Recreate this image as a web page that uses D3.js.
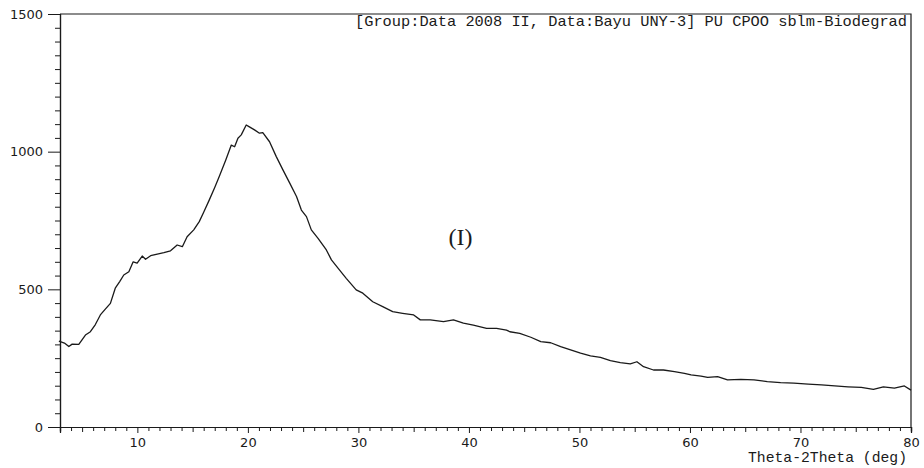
<!DOCTYPE html>
<html>
<head>
<meta charset="utf-8">
<script src="https://cdn.jsdelivr.net/npm/d3@7"></script>
<style>
  html, body { margin: 0; padding: 0; background: #fff; }
  svg { display: block; }
</style>
</head>
<body>
<svg id="chart" width="924" height="468"></svg>
<script>
// ---- data ----
const twoTheta = [
  2.9, 3.4, 3.8, 4.1, 4.7, 5.3, 5.75, 6.2, 6.65, 7.1, 7.56, 8.0, 8.4, 8.77, 9.23, 9.62, 9.98,
  10.44, 10.74, 11.2, 11.8, 12.4, 13.0, 13.6, 14.07, 14.5, 15.1, 15.6, 16.0, 16.5, 17.0, 17.4,
  18.0, 18.5, 18.8, 19.1, 19.4, 19.85, 20.1, 20.6, 21.05, 21.35, 21.96, 22.57, 23.17, 23.8,
  24.4, 24.84, 25.3, 25.74, 26.35, 27.1, 27.56, 28.3, 28.9, 29.8, 30.4, 31.3, 32.2, 33.1,
  34.0, 35.0, 35.6, 36.5, 37.7, 38.6, 39.5, 40.4, 41.6, 42.5, 43.4, 43.7, 44.6, 45.6, 46.5,
  47.4, 48.3, 49.2, 50.1, 51.0, 51.9, 52.8, 53.7, 54.6, 55.2, 55.8, 56.7, 57.6, 58.6, 59.5,
  60.1, 61.0, 61.6, 62.5, 63.4, 64.6, 65.8, 67.0, 68.2, 69.4, 70.7, 71.9, 73.1, 74.3, 75.5,
  76.6, 77.5, 78.5, 79.4, 80.0
];
const intensity = [
  312, 305, 292, 301, 300, 334, 346, 372, 407, 428, 449, 504, 528, 552, 564, 600, 595,
  621, 609, 622, 628, 633, 640, 661, 655, 691, 716, 746, 780, 824, 870, 909,
  970, 1024, 1018, 1049, 1061, 1097, 1091, 1079, 1067, 1069, 1036, 982, 934, 885,
  837, 788, 764, 716, 685, 643, 607, 570, 540, 498, 486, 455, 437, 419,
  413, 407, 389, 389, 383, 389, 377, 370, 358, 358, 352, 346, 340, 326, 310,
  306, 292, 280, 268, 258, 253, 241, 234, 229, 237, 219, 207, 207, 201, 195,
  189, 185, 180, 183, 171, 173, 171, 165, 161, 159, 156, 153, 149, 146, 144,
  137, 146, 141, 149, 134
];
const xTickValues = [10, 20, 30, 40, 50, 60, 70, 80];
const yTickValues = [0, 500, 1000, 1500];
const headerText = "[Group:Data 2008 II, Data:Bayu UNY-3] PU CPOO sblm-Biodegrad";
const xAxisTitle = "Theta-2Theta (deg)";
const panelLabel = "(I)";

// ---- layout ----
const svg = d3.select("#chart");
const L = 60, R = 911, T = 14, B = 427;
const x = d3.scaleLinear().domain([3, 80]).range([L, R]);
const y = d3.scaleLinear().domain([0, 1500]).range([B, T]);
const ink = "#1a1a1a";

const points = twoTheta.map((d, i) => ({ x: d, y: intensity[i] }));

// frame (top + right)
svg.append("path")
  .attr("d", `M${L},${T}H${R}V${B}`)
  .attr("fill", "none").attr("stroke", ink).attr("stroke-width", 1.2);

// x axis: minor ticks every degree
const xMinor = d3.range(3, 81, 1).filter(v => v % 5 !== 0);
const xMid = d3.range(5, 80, 10);
const gx = svg.append("g").attr("transform", `translate(0,${B})`);
gx.call(d3.axisBottom(x).tickValues(xMinor).tickSize(4).tickFormat(""));
gx.append("g").call(d3.axisBottom(x).tickValues(xMid).tickSize(5).tickFormat(""));
const gxMaj = gx.append("g").call(d3.axisBottom(x).tickValues(xTickValues).tickSize(6).tickPadding(5).tickFormat(d3.format("d")));
gx.selectAll("path.domain").attr("stroke", ink).attr("stroke-width", 1.2);
gx.selectAll("line").attr("stroke", ink).attr("stroke-width", 1);
gxMaj.selectAll("text")
  .attr("font-family", "DejaVu Sans, sans-serif").attr("font-size", 13).attr("fill", ink);

// y axis: minor ticks every 50
const yMinor = d3.range(50, 1500, 50).filter(v => v % 500 !== 0);
const gy = svg.append("g").attr("transform", `translate(${L},0)`);
gy.call(d3.axisLeft(y).tickValues(yMinor).tickSize(5).tickFormat(""));
const gyMaj = gy.append("g").call(d3.axisLeft(y).tickValues(yTickValues).tickSize(12).tickPadding(5).tickFormat(d3.format("d")));
gy.selectAll("path.domain").attr("stroke", ink).attr("stroke-width", 1.2);
gy.selectAll("line").attr("stroke", ink).attr("stroke-width", 1);
gyMaj.selectAll("text")
  .attr("font-family", "DejaVu Sans, sans-serif").attr("font-size", 13).attr("fill", ink);

// data line
const line = d3.line().x(d => x(d.x)).y(d => y(d.y));
svg.append("path").datum(points)
  .attr("d", line)
  .attr("fill", "none").attr("stroke", ink).attr("stroke-width", 1.3)
  .attr("stroke-linejoin", "round");

// header
svg.append("text")
  .attr("x", 355).attr("y", 26)
  .attr("textLength", 552).attr("lengthAdjust", "spacingAndGlyphs")
  .attr("font-family", "Liberation Mono, DejaVu Sans Mono, monospace")
  .attr("font-size", 15).attr("fill", ink)
  .text(headerText);

// x axis title
svg.append("text")
  .attr("x", 748).attr("y", 462)
  .attr("textLength", 159).attr("lengthAdjust", "spacingAndGlyphs")
  .attr("font-family", "Liberation Mono, DejaVu Sans Mono, monospace")
  .attr("font-size", 15).attr("fill", ink)
  .text(xAxisTitle);

// panel label
svg.append("text")
  .attr("x", 460.5).attr("y", 245).attr("text-anchor", "middle")
  .attr("font-family", "Liberation Serif, DejaVu Serif, serif")
  .attr("font-size", 24).attr("fill", ink)
  .text(panelLabel);
</script>
</body>
</html>
